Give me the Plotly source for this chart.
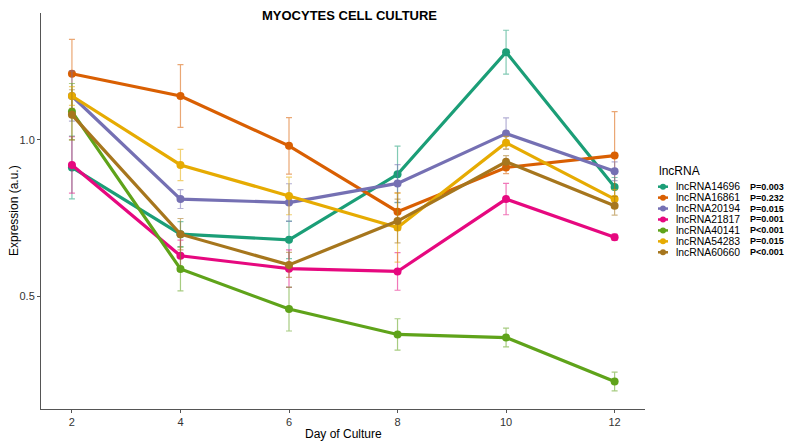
import plotly.graph_objects as go

days = [2, 4, 6, 8, 10, 12]
series_names = ["lncRNA14696", "lncRNA16861", "lncRNA20194", "lncRNA21817",
                "lncRNA40141", "lncRNA54283", "lncRNA60660"]
p_values = ["P=0.003", "P=0.232", "P=0.015", "P=0.001", "P<0.001", "P=0.015", "P<0.001"]

lnc14696 = [0.912, 0.699, 0.681, 0.890, 1.280, 0.850]
lnc16861 = [1.211, 1.140, 0.981, 0.771, 0.912, 0.950]
lnc20194 = [1.140, 0.811, 0.800, 0.861, 1.020, 0.900]
lnc21817 = [0.920, 0.630, 0.589, 0.580, 0.811, 0.689]
lnc40141 = [1.090, 0.588, 0.460, 0.379, 0.369, 0.229]
lnc54283 = [1.140, 0.920, 0.821, 0.720, 0.991, 0.811]
lnc60660 = [1.080, 0.699, 0.601, 0.741, 0.930, 0.790]

err14696 = [0.10, 0.04, 0.06, 0.09, 0.07, 0.03]
err16861 = [0.11, 0.10, 0.09, 0.06, 0.02, 0.14]
err20194 = [0.08, 0.03, 0.06, 0.06, 0.05, 0.03]
err21817 = [0.09, 0.05, 0.06, 0.06, 0.05, 0.01]
err40141 = [0.09, 0.07, 0.07, 0.05, 0.03, 0.03]
err54283 = [0.03, 0.05, 0.06, 0.11, 0.02, 0.03]
err60660 = [0.08, 0.05, 0.04, 0.07, 0.02, 0.03]

values = [lnc14696, lnc16861, lnc20194, lnc21817, lnc40141, lnc54283, lnc60660]
errors = [err14696, err16861, err20194, err21817, err40141, err54283, err60660]
colors = ["#1B9E77", "#D95F02", "#7570B3", "#E6087F", "#5FA31A", "#E6AB02", "#A6761D"]

def rgba(hexc, a):
    h = hexc.lstrip("#")
    return "rgba(%d,%d,%d,%s)" % (int(h[0:2], 16), int(h[2:4], 16), int(h[4:6], 16), a)

FONT = "Liberation Sans, Arial, sans-serif"
W, H = 789, 447
L, R, T, B = 41, 144, 13, 38
PW, PH = W - L - R, H - T - B

def px(x):
    return (x - L) / PW

def py(y):
    return (H - B - y) / PH

fig = go.Figure()
for name, vals, errs, col in zip(series_names, values, errors, colors):
    fig.add_trace(go.Scatter(
        x=days, y=vals, name=name, mode="lines+markers",
        line=dict(color=col, width=3.2),
        marker=dict(color=col, size=8),
        error_y=dict(type="data", array=errs, visible=True,
                     color=rgba(col, 0.55), thickness=1.2, width=3),
        showlegend=False,
    ))

annotations = [
    dict(text="<b>MYOCYTES CELL CULTURE</b>", x=px(349), y=py(15), xref="paper", yref="paper",
         xanchor="center", yanchor="middle", showarrow=False,
         font=dict(family=FONT, size=13, color="#000000")),
    dict(text="Day of Culture", x=px(343), y=py(434), xref="paper", yref="paper",
         xanchor="center", yanchor="middle", showarrow=False,
         font=dict(family=FONT, size=12, color="#000000")),
    dict(text="Expression (a.u.)", x=px(14), y=py(211), xref="paper", yref="paper",
         xanchor="center", yanchor="middle", showarrow=False, textangle=-90,
         font=dict(family=FONT, size=12, color="#000000")),
    dict(text="lncRNA", x=px(657), y=py(171), xref="paper", yref="paper",
         xanchor="left", yanchor="middle", showarrow=False,
         font=dict(family=FONT, size=12, color="#000000")),
]
shapes = []
row_y = [186.7 + i * 10.93 for i in range(len(series_names))]
for name, pv, col, ry in zip(series_names, p_values, colors, row_y):
    shapes.append(dict(type="line", xref="paper", yref="paper",
                       x0=px(658), x1=px(668), y0=py(ry), y1=py(ry),
                       line=dict(color=col, width=2.5)))
    shapes.append(dict(type="circle", xref="paper", yref="paper",
                       x0=px(660), x1=px(666), y0=py(ry + 3), y1=py(ry - 3),
                       fillcolor=col, line=dict(color=col, width=0)))
    annotations.append(dict(text=name, x=px(674), y=py(ry), xref="paper", yref="paper",
                            xanchor="left", yanchor="middle", showarrow=False,
                            font=dict(family=FONT, size=10.4, color="#000000")))
    annotations.append(dict(text="<b>" + pv + "</b>", x=px(748), y=py(ry), xref="paper", yref="paper",
                            xanchor="left", yanchor="middle", showarrow=False,
                            font=dict(family=FONT, size=9, color="#000000")))

fig.update_layout(
    width=W, height=H,
    margin=dict(l=L, r=R, t=T, b=B, pad=0),
    paper_bgcolor="white", plot_bgcolor="white",
    annotations=annotations, shapes=shapes,
    showlegend=False,
    xaxis=dict(range=[1.43, 12.56], tickvals=days, ticktext=[str(d) for d in days],
               showline=True, linecolor="#555555", linewidth=1, ticks="outside",
               ticklen=3, tickcolor="#555555", showgrid=False, zeroline=False,
               tickfont=dict(family=FONT, size=11, color="#333333")),
    yaxis=dict(range=[0.141, 1.405], tickvals=[0.5, 1.0], ticktext=["0.5", "1.0"],
               showline=True, linecolor="#555555", linewidth=1, ticks="outside",
               ticklen=3, tickcolor="#555555", showgrid=False, zeroline=False,
               tickfont=dict(family=FONT, size=11, color="#333333")),
)

fig.write_html("out.html", config={"displayModeBar": False},
               post_script="document.body.style.margin='0';document.body.style.overflow='hidden';")
